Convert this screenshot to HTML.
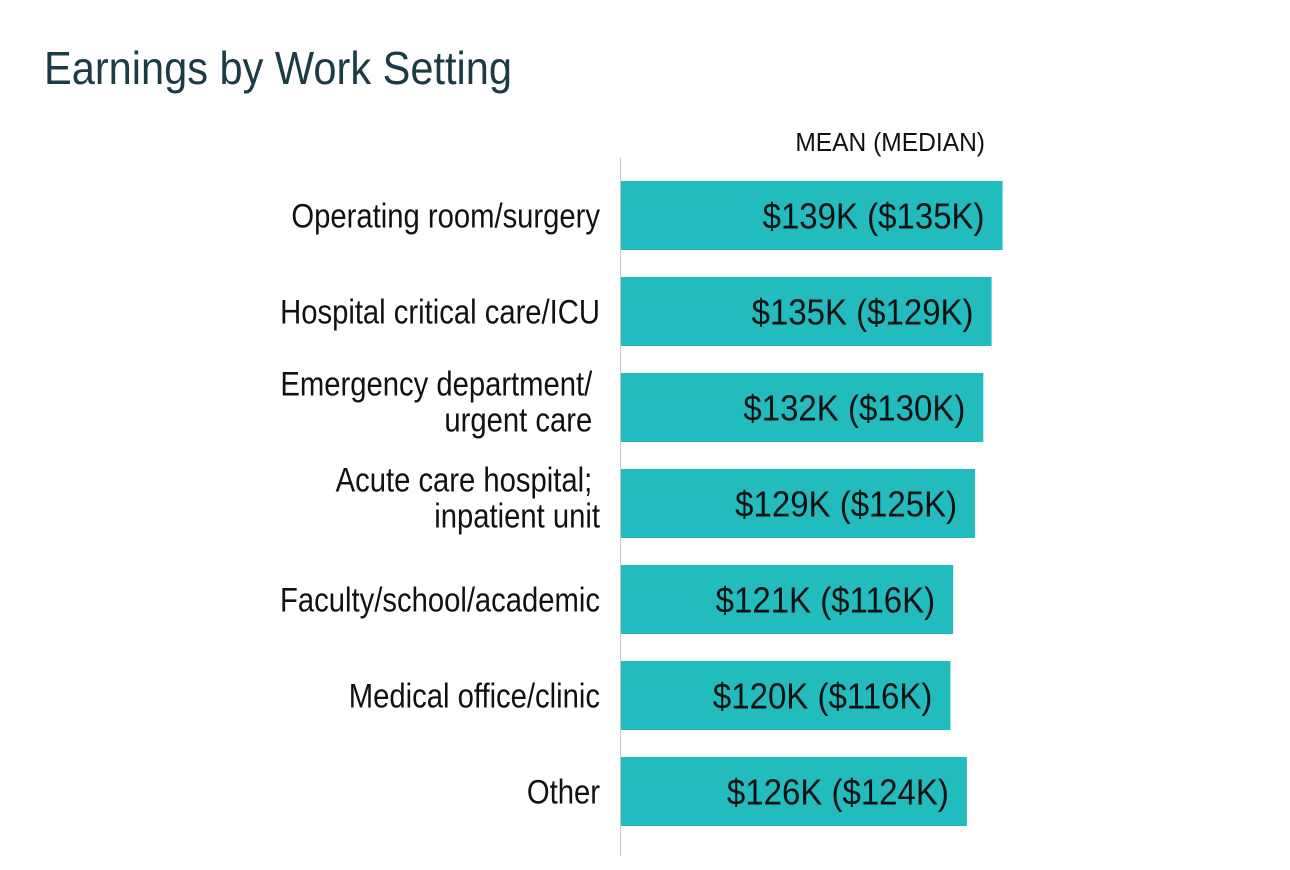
<!DOCTYPE html>
<html><head><meta charset="utf-8"><style>
html,body{margin:0;padding:0;background:#fff;}
svg{display:block;font-family:"Liberation Sans",sans-serif;}
</style></head><body>
<svg id="chart" width="1290" height="870" viewBox="0 0 1290 870">
<text x="44" y="84" font-size="46" fill="#1d3b45" textLength="468" lengthAdjust="spacingAndGlyphs">Earnings by Work Setting</text>
<text x="985" y="151" font-size="26" fill="#111" text-anchor="end" transform="translate(985,0) scale(0.945,1) translate(-985,0)">MEAN (MEDIAN)</text>
<line x1="620.5" y1="158" x2="620.5" y2="856" stroke="#c8c8c8" stroke-width="1"/>
<g id="bars"></g>
<g id="labels" transform="translate(600,0) scale(0.86,1) translate(-600,0)"></g>
<g id="values"></g>
</svg>
<script>
const categories = [["Operating room/surgery"],["Hospital critical care/ICU"],["Emergency department/","urgent care"],["Acute care hospital;","inpatient unit"],["Faculty/school/academic"],["Medical office/clinic"],["Other"]];
const means = [139,135,132,129,121,120,126];
const medians = [135,129,130,125,116,116,124];
const NS="http://www.w3.org/2000/svg";
const x0=621, pxPerK=2.745, top0=181, pitch=96, bh=69;
const xs=v=>x0+v*pxPerK;
const bars=document.getElementById('bars'), labels=document.getElementById('labels'), vals=document.getElementById('values');
categories.forEach((c,i)=>{
  const y=top0+i*pitch, cy=y+bh/2;
  const r=document.createElementNS(NS,'rect');
  r.setAttribute('x',x0);r.setAttribute('y',y);r.setAttribute('width',xs(means[i])-x0);r.setAttribute('height',bh);r.setAttribute('fill','#22bcbf');
  
  
  bars.appendChild(r);
  const ex=xs(means[i])-18;
  const t=document.createElementNS(NS,'text');
  t.setAttribute('x',ex);t.setAttribute('y',cy+13);t.setAttribute('font-size','36');t.setAttribute('fill','#111');t.setAttribute('text-anchor','end');
  t.setAttribute('transform',`translate(${ex},0) scale(0.917,1) translate(${-ex},0)`);
  t.textContent=`$${means[i]}K ($${medians[i]}K)`;
  
  
  vals.appendChild(t);
  c.forEach((line,j)=>{
    const l=document.createElementNS(NS,'text');
    const multi=c.length>1;
    const ly=multi?(cy-12+j*36):(cy+12);
    const lx=(multi && j==0)?591:(multi&&i==2?591:600);
    l.setAttribute('x',lx);l.setAttribute('y',ly);l.setAttribute('font-size','34');l.setAttribute('fill','#111');l.setAttribute('text-anchor','end');
    l.textContent=line;
    
    
    labels.appendChild(l);
  });
});
</script>
</body></html>
